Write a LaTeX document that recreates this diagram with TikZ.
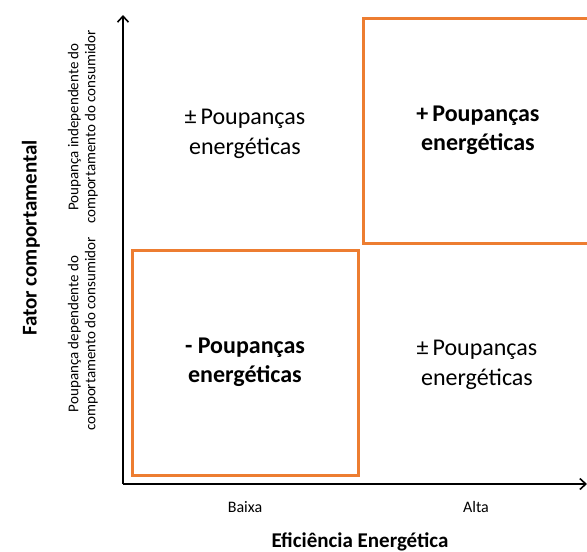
\documentclass[tikz,border=0pt]{standalone}
\usepackage{fontspec}
\setmainfont{Carlito}
\usepackage{tikz}
\usetikzlibrary{positioning,arrows.meta}
\definecolor{boxorange}{RGB}{237,125,49}

\begin{document}
\begin{tikzpicture}[x=1pt,y=-1pt]
            \tikzstyle{quad}=[rectangle,draw=boxorange,line width=3pt,inner sep=0pt,align=center]
            \tikzstyle{big}=[font=\fontsize{24}{30}\selectfont]
            \tikzstyle{bigb}=[font=\fontsize{24}{29}\selectfont\bfseries]
            \tikzstyle{tick}=[font=\fontsize{16}{18}\selectfont]
            \tikzstyle{side}=[rotate=90,align=center,font=\fontsize{15}{17}\selectfont]
            \tikzstyle{title}=[font=\fontsize{21}{24}\selectfont\bfseries]

            \tikzstyle{axis}=[line width=1.8pt,-{Straight Barb[length=6pt,width=11pt,line width=1.6pt]}]

            \useasboundingbox (0,0) rectangle (587,552);

            \coordinate (O) at (123,484);
            \coordinate (ytop) at (123,15);
            \coordinate (xend) at (587,484);

            % quadrants
            \node[quad,bigb,minimum width=226pt,minimum height=225pt] (low) at (245,362.5) {- Poupanças\\energéticas};
            \node[quad,bigb,minimum width=230pt,minimum height=225pt] (high) at (478,130.5) {+\,Poupanças\\energéticas};
            \node[big,align=center] (mixA) at (245,134) {±\,Poupanças\\energéticas};
            \node[big,align=center] (mixB) at (477,365) {±\,Poupanças\\energéticas};

            % axes
            \draw[axis] (O) -- (ytop);
            \draw[axis] (O) -- (xend);

            \node[tick] (baixa) at (245,507) {Baixa};
            \node[tick] (alta) at (476,507) {Alta};
            \node[title] (xlab) at (360,542) {Eficiência Energética};

            \node[side] (indep) at (83,127) {Poupança independente do\\comportamento do consumidor};
            \node[side] (dep) at (83,334) {Poupança dependente do\\comportamento do consumidor};
            \node[title,rotate=90] (ylab) at (31,238) {Fator comportamental};
\end{tikzpicture}
\end{document}
